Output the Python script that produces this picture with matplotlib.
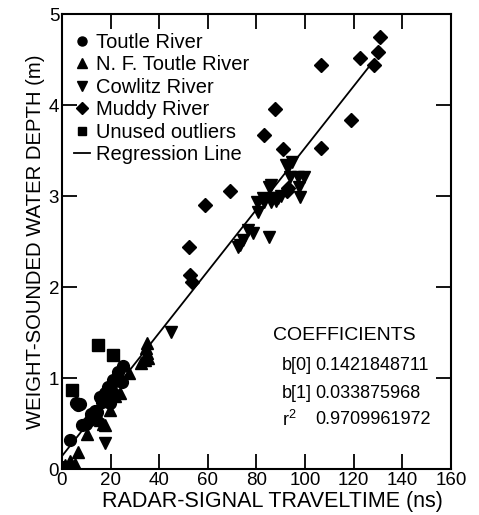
import numpy as np
import matplotlib
matplotlib.use('Agg')
import matplotlib.pyplot as plt
from matplotlib.lines import Line2D

plt.rcParams['font.family'] = ['Liberation Sans', 'DejaVu Sans']

# Data (x = traveltime ns, y = depth m)
toutle_x = [0, 1, 3.3, 5.8, 6.6, 7.4, 8.2, 10, 11.5, 12, 13.6, 14.4, 15.7, 16.5,
            17.7, 18.5, 19.0, 19.8, 19.8, 21.0, 21.0, 21.9, 23.1, 24.7, 25.2]
toutle_y = [0, 0.02, 0.32, 0.72, 0.70, 0.71, 0.48, 0.50, 0.54, 0.60, 0.64, 0.63,
            0.79, 0.74, 0.83, 0.76, 0.90, 0.89, 0.72, 0.98, 0.83, 0.97, 1.07,
            0.96, 1.13]

nf_x = [1.2, 3.3, 5.4, 6.6, 10.3, 13, 15.7, 17.0, 17.7, 19.8, 22, 24.0, 27.4,
        32.5, 34.0, 34.5, 35.0, 35.0, 35.5]
nf_y = [0.04, 0.09, 0.05, 0.19, 0.39, 0.60, 0.54, 0.50, 0.48, 0.65, 0.80, 0.83,
        1.06, 1.17, 1.20, 1.33, 1.38, 1.27, 1.22]

cowlitz_x = [17.5, 44.9, 72.6, 73.4, 74.6, 76.7, 78.4, 80.4, 80.8, 82.5, 82.9,
             85.0, 85.0, 85.8, 85.8, 86.6, 88, 89.0, 90, 92.0, 92.8, 94.0, 94.8,
             97.0, 97.3, 98.1, 99.4]
cowlitz_y = [0.29, 1.51, 2.44, 2.46, 2.52, 2.63, 2.59, 2.93, 2.82, 2.98, 2.93,
             2.55, 3.10, 2.93, 3.12, 2.98, 2.95, 2.98, 3.00, 3.34, 3.32, 3.21,
             3.37, 3.21, 3.10, 2.99, 3.21]

muddy_x = [52.4, 52.8, 53.6, 59.0, 69.3, 83.3, 87.8, 91.0, 92.4, 92.8, 106.4,
           106.4, 118.8, 122.5, 128.3, 130.0, 131.0]
muddy_y = [2.44, 2.13, 2.06, 2.90, 3.05, 3.67, 3.96, 3.52, 3.05, 3.09, 3.53,
           4.44, 3.84, 4.52, 4.44, 4.58, 4.75]

outlier_x = [4.1, 14.8, 21.0]
outlier_y = [0.87, 1.36, 1.25]

b0 = 0.1421848711
b1 = 0.033875968
r2 = 0.9709961972
line_x = [0, 128]

fig = plt.figure(figsize=(4.79, 5.15), dpi=100)
ax = fig.add_axes([0.1294, 0.0893, 0.812, 0.8835])

ax.plot(toutle_x, toutle_y, 'o', color='black', ms=8.5)
ax.plot(nf_x, nf_y, '^', color='black', ms=8.5)
ax.plot(cowlitz_x, cowlitz_y, 'v', color='black', ms=8.5)
ax.plot(muddy_x, muddy_y, 'D', color='black', ms=7.5)
ax.plot(outlier_x, outlier_y, 's', color='black', ms=8)
lx = np.array(line_x)
ax.plot(lx, b0 + b1 * lx, '-', color='black', lw=1.3)

ax.set_xlim(0, 160)
ax.set_ylim(0, 5)
ax.set_xticks(range(0, 161, 20))
ax.set_yticks(range(0, 6))
ax.tick_params(direction='in', length=11, width=1.3, top=True, right=True,
               labelsize=13.5, pad=2)
for s in ax.spines.values():
    s.set_linewidth(1.5)

ax.set_xlabel('RADAR-SIGNAL TRAVELTIME (ns)', fontsize=15.5)
ax.xaxis.set_label_coords(0.54, -0.048)
ax.set_ylabel('WEIGHT-SOUNDED WATER DEPTH (m)', fontsize=14.6, labelpad=3)

handles = [
    Line2D([], [], ls='', marker='o', color='black', ms=6.5),
    Line2D([], [], ls='', marker='^', color='black', ms=6.5),
    Line2D([], [], ls='', marker='v', color='black', ms=6.5),
    Line2D([], [], ls='', marker='D', color='black', ms=6),
    Line2D([], [], ls='', marker='s', color='black', ms=6),
    Line2D([], [], ls='-', color='black', lw=1.3),
]
labels = ['Toutle River', 'N. F. Toutle River', 'Cowlitz River', 'Muddy River',
          'Unused outliers', 'Regression Line']
ax.legend(handles, labels, loc='upper left', frameon=False, fontsize=14.5,
          handlelength=0.8, handletextpad=0.3, labelspacing=0.17,
          borderaxespad=0.2, bbox_to_anchor=(0.0, 0.985))

ax.text(116, 1.47, 'COEFFICIENTS', fontsize=14, ha='center', va='center')
ax.text(90.5, 1.14, 'b[0]', fontsize=13, va='center')
ax.text(104, 1.14, f'{b0:.10f}', fontsize=13, va='center')
ax.text(90.5, 0.835, 'b[1]', fontsize=13, va='center')
ax.text(104, 0.835, f'{b1:.9f}', fontsize=13, va='center')
ax.text(90.5, 0.54, r'r$^{\mathregular{2}}$', fontsize=13, va='center')
ax.text(104, 0.54, f'{r2:.10f}', fontsize=13, va='center')

fig.savefig('out.png', dpi=100)
